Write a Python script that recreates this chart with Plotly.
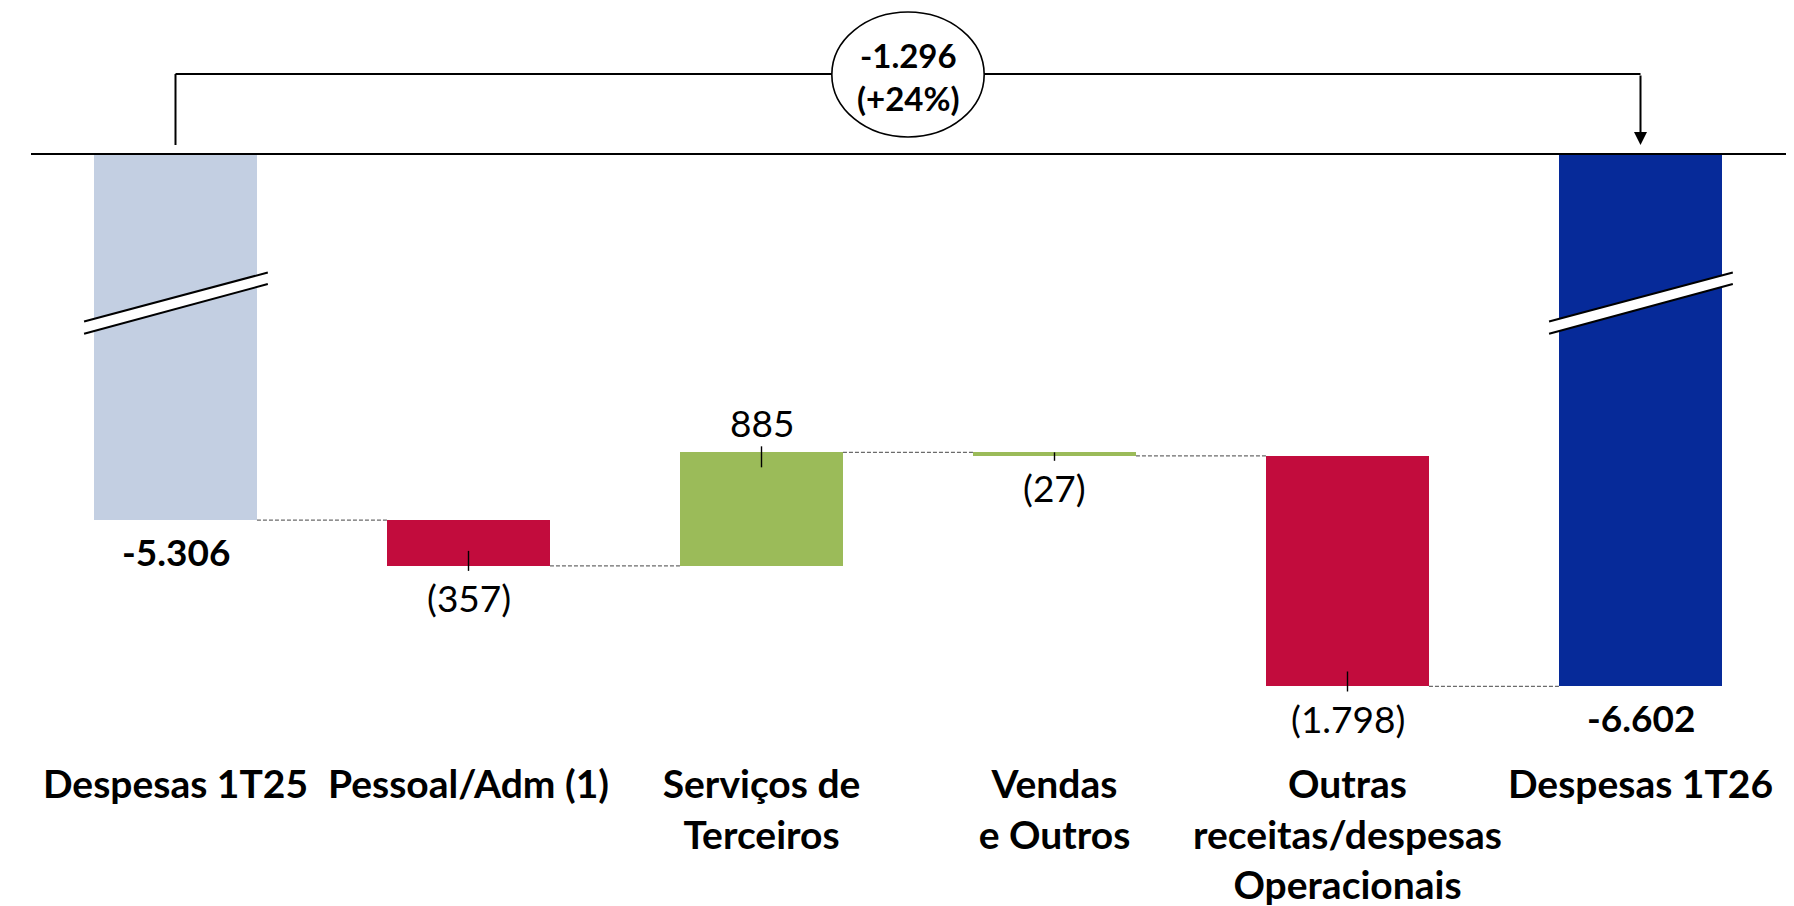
import plotly.graph_objects as go

# data (R$ mm)
categories = ["Despesas 1T25", "Pessoal/Adm (1)", "Serviços de<br>Terceiros",
              "Vendas<br>e Outros", "Outras<br>receitas/despesas<br>Operacionais",
              "Despesas 1T26"]
start_total = -5306
deltas = [-357, 885, -27, -1798]
end_total = -6602

# styles
bar_colors = ["#C3CFE2", "#C20C3D", "#9BBB59", "#9BBB59", "#C20C3D", "#062A99"]
FONT = "Lato"
W = 0.556                      # bar width (category units)
Y_RANGE = [-7020, -2453]       # axis is broken: top of plot = break level

# page geometry (the html body has an 8px margin)
BODY = 8
PAGE_W, PAGE_H = 1794, 906
PLOT_TOP, PLOT_BOTTOM = 154, 740
PLOT_H = PLOT_BOTTOM - PLOT_TOP
STEP, X0_PX = 293, 175.5       # category spacing and first centre, page px


def py(y_page):
    """page pixel row -> paper y"""
    return (PLOT_BOTTOM - y_page) / PLOT_H


def fmt(v):
    return f"{abs(v):,}".replace(",", ".")


n = len(categories)
xs = list(range(n))

# bar ends
bases, heights = [0], [start_total]
level = start_total
levels = [start_total]
for d in deltas:
    bases.append(level)
    heights.append(d)
    level += d
    levels.append(level)
bases.append(0)
heights.append(end_total)
levels[-1] = end_total
levels.append(end_total)

fig = go.Figure()
fig.add_trace(go.Bar(x=xs, y=heights, base=bases, width=W,
                     marker=dict(color=bar_colors, line_width=0),
                     hoverinfo="skip"))

# dashed connectors between consecutive bars
cx, cy = [], []
for i in range(n - 1):
    cx += [i + W / 2, i + 1 - W / 2, None]
    cy += [levels[i], levels[i], None]
fig.add_trace(go.Scatter(x=cx, y=cy, mode="lines", hoverinfo="skip",
                         line=dict(color="#6B6B6B", width=1.3, dash="4px,2px")))

px_per_unit = PLOT_H / (Y_RANGE[1] - Y_RANGE[0])
shapes, annotations = [], []

# total labels
for i, v in ((0, start_total), (n - 1, end_total)):
    annotations.append(dict(x=i, y=v, xref="x", yref="y", showarrow=False,
                            text=f"<b>-{fmt(v)}</b>", yshift=-31,
                            font=dict(family=FONT, size=37, color="black")))

# delta labels with small tick at the bar end
for k, d in enumerate(deltas):
    i = k + 1
    end = bases[i] + d
    inside = min(15, abs(d) * px_per_unit)
    if d > 0:
        txt, ys, t0, t1 = fmt(d), 30, 6, -inside
    else:
        txt, ys, t0, t1 = f"({fmt(d)})", -32, -5, inside
    annotations.append(dict(x=i, y=end, xref="x", yref="y", showarrow=False,
                            text=txt, yshift=ys,
                            font=dict(family=FONT, size=37, color="black")))
    shapes.append(dict(type="line", xref="x", yref="y", x0=i, x1=i,
                       ysizemode="pixel", yanchor=end, y0=t0, y1=t1,
                       line=dict(color="black", width=1.4)))

# axis-break marks on the two total bars
ul, ur, ll, lr = py(321.5), py(272.5), py(333.7), py(284)
for i in (0, n - 1):
    xl, xr = i - W / 2 - 0.034, i + W / 2 + 0.037
    shapes.append(dict(type="path", xref="x", yref="paper",
                       path=f"M{xl},{ul} L{xr},{ur} L{xr},{lr} L{xl},{ll} Z",
                       fillcolor="white", line_width=0))
    for yl, yr in ((ul, ur), (ll, lr)):
        shapes.append(dict(type="line", xref="x", yref="paper",
                           x0=xl, x1=xr, y0=yl, y1=yr,
                           line=dict(color="black", width=2)))

# top horizontal line (broken axis)
shapes.append(dict(type="line", xref="paper", yref="paper",
                   x0=(31 - BODY) / (PAGE_W - BODY), x1=1,
                   y0=1, y1=1, line=dict(color="black", width=2)))

# bracket with variation bubble
y_br, y_tip = py(74), py(145)
shapes.append(dict(type="line", xref="x", yref="paper", x0=0, x1=n - 1,
                   y0=y_br, y1=y_br, line=dict(color="black", width=2)))
shapes.append(dict(type="line", xref="x", yref="paper", x0=0, x1=0,
                   y0=y_br, y1=y_tip, line=dict(color="black", width=2)))
annotations.append(dict(x=n - 1, y=y_tip, xref="x", yref="paper", text="",
                        showarrow=True, ax=0, ay=-71, arrowhead=2, arrowsize=1.3,
                        arrowwidth=2, arrowcolor="black", standoff=0))
mid = (n - 1) / 2
shapes.append(dict(type="circle", xref="x", yref="paper",
                   x0=mid - 0.26, x1=mid + 0.26, y0=py(137), y1=py(12),
                   fillcolor="white", line=dict(color="black", width=1.6)))
diff = end_total - start_total
pct = round(abs(diff) / abs(start_total) * 100)
annotations.append(dict(x=mid, y=py(76), xref="x", yref="paper", showarrow=False,
                        yanchor="middle", xanchor="center",
                        text=f"<b>-{fmt(diff)}<br>(+{pct}%)</b>",
                        font=dict(family=FONT, size=33, color="black")))

fig.update_layout(
    width=PAGE_W - BODY, height=PAGE_H - BODY, autosize=False,
    margin=dict(l=0, r=0, t=PLOT_TOP - BODY, b=PAGE_H - PLOT_BOTTOM, pad=0),
    paper_bgcolor="white", plot_bgcolor="white",
    showlegend=False, bargap=0,
    shapes=shapes, annotations=annotations,
    xaxis=dict(range=[(BODY - X0_PX) / STEP, (PAGE_W - X0_PX) / STEP],
               tickvals=xs,
               ticktext=[f"<b>{c}</b>" for c in categories],
               tickfont=dict(family=FONT, size=39, color="black"),
               ticks="", showline=False, showgrid=False, zeroline=False,
               ticklabelstandoff=18),
    yaxis=dict(range=Y_RANGE, visible=False, showgrid=False, zeroline=False),
)

fig.write_html("out.html")
